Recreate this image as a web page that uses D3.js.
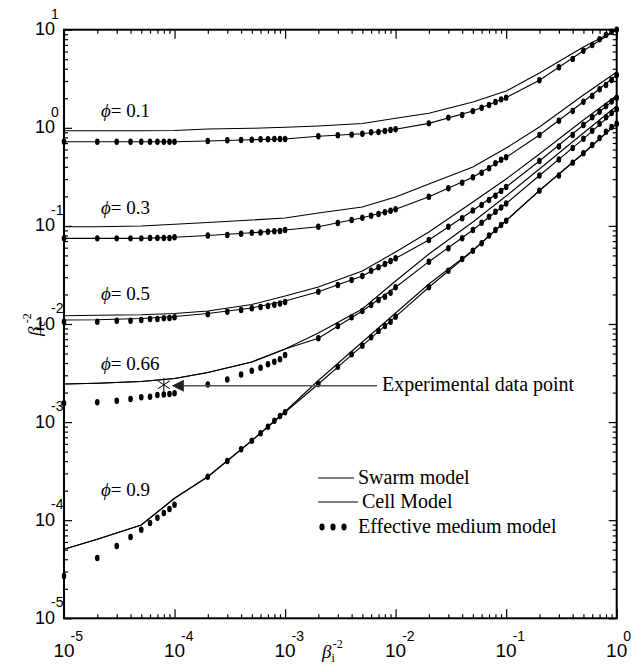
<!DOCTYPE html>
<html><head><meta charset="utf-8">
<script src="https://cdn.jsdelivr.net/npm/d3@7"></script>
<style>body{margin:0;background:#fff}</style>
</head><body>
<svg id="c" width="644" height="671"></svg>
<script>
// ---------- data ----------
const dotX = [1e-5,2e-5,3e-5,4e-5,5e-5,6e-5,7e-5,8e-5,9e-5,
  1e-4,2e-4,3e-4,4e-4,5e-4,6e-4,7e-4,8e-4,9e-4,
  1e-3,2e-3,3e-3,4e-3,5e-3,6e-3,7e-3,8e-3,9e-3,
  1e-2,2e-2,3e-2,4e-2,5e-2,6e-2,7e-2,8e-2,9e-2,
  1e-1,2e-1,3e-1,4e-1,5e-1,6e-1,7e-1,8e-1,9e-1,1];
const lineX = [1e-5,2e-5,5e-5,1e-4,2e-4,5e-4,1e-3,2e-3,5e-3,1e-2,2e-2,5e-2,1e-1,2e-1,5e-1,1];

const phiLabels = ["0.1","0.3","0.5","0.66","0.9"];
const phiLabelY = [1.29, 0.132, 0.0176, 0.0034, 1.77e-4]; // label baselines (data units)

const em01 = [0.722,0.722,0.722,0.722,0.722,0.722,0.722,0.722,0.722,0.722,
  0.734,0.746,0.751,0.756,0.764,0.764,0.769,0.769,0.769,
  0.819,0.839,0.851,0.871,0.900,0.906,0.928,0.950,0.965,
  1.11,1.27,1.35,1.48,1.60,1.71,1.83,1.95,2.03,
  3.05,4.14,5.03,6.11,6.98,7.98,8.83,9.54,10.0];
const em03 = [0.0747,0.0747,0.0747,0.0747,0.0747,0.0753,0.0753,0.0753,0.0753,0.0765,
  0.0798,0.0808,0.0833,0.0851,0.0857,0.0871,0.0881,0.0887,0.0908,
  0.0981,0.1070,0.1149,0.1212,0.1271,0.1322,0.1376,0.1429,0.1477,
  0.1985,0.2417,0.2757,0.3138,0.3486,0.3867,0.4347,0.4732,0.5004,
  0.845,1.181,1.484,1.845,2.110,2.470,2.731,3.072,3.453];
const em05 = [0.01056,0.01056,0.01081,0.01081,0.01099,0.01125,0.01125,0.01143,0.01151,0.01170,
  0.01259,0.01335,0.01389,0.01446,0.01491,0.01526,0.01573,0.01618,0.01676,
  0.02135,0.02497,0.02809,0.03086,0.03494,0.03785,0.04089,0.04388,0.04675,
  0.07185,0.0981,0.1195,0.1435,0.1633,0.1837,0.2032,0.2269,0.2492,
  0.4588,0.6449,0.845,1.068,1.280,1.460,1.669,1.854,2.027];
const em066 = [0.001555,0.001591,0.001653,0.001720,0.001790,0.001816,0.001889,0.001911,0.001934,0.001966,
  0.002417,0.002719,0.003057,0.003343,0.003585,0.003885,0.004127,0.004367,0.004831,
  0.007152,0.009544,0.01171,0.01357,0.01562,0.01757,0.01898,0.02085,0.02366,
  0.04317,0.05910,0.07474,0.09083,0.1078,0.1241,0.1396,0.1540,0.1692,
  0.3265,0.4753,0.6224,0.7724,0.934,1.101,1.280,1.416,1.544];
const em09 = [2.699e-5,4.117e-5,5.457e-5,6.743e-5,8.000e-5,9.365e-5,1.060e-4,1.184e-4,1.301e-4,1.439e-4,
  2.777e-4,4.013e-4,5.281e-4,6.462e-4,7.689e-4,8.980e-4,1.034e-3,1.154e-3,1.259e-3,
  2.446e-3,3.672e-3,4.912e-3,6.012e-3,7.321e-3,8.489e-3,9.546e-3,1.056e-2,1.188e-2,
  2.367e-2,3.496e-2,4.601e-2,5.590e-2,6.651e-2,7.989e-2,9.089e-2,0.1022,0.1130,
  0.2286,0.3266,0.4412,0.5500,0.6683,0.7878,0.9134,1.020,1.102];

const swarm01 = [0.934,0.934,0.934,0.938,0.972,0.988,1.012,1.043,1.106,1.250,1.406,1.832,2.372,3.62,6.66,10.0];
const cell01  = [0.722,0.722,0.722,0.722,0.734,0.756,0.769,0.819,0.871,0.965,1.11,1.48,2.03,3.05,6.11,10.0];
const swarm03 = [0.0981,0.0981,0.0998,0.1038,0.1083,0.1149,0.1204,0.1354,0.1559,0.1971,0.2675,0.3986,0.6224,1.019,2.160,3.706];
const cell03  = [0.0747,0.0747,0.0747,0.0765,0.0798,0.0851,0.0908,0.0981,0.1212,0.1477,0.1985,0.3138,0.5004,0.845,1.845,3.453];
const swarm05 = [0.01215,0.01227,0.01244,0.01279,0.01357,0.01580,0.01930,0.02383,0.03469,0.05420,0.0867,0.1753,0.3007,0.5408,1.200,2.135];
const cell05  = [0.01099,0.01104,0.01138,0.01193,0.01279,0.01456,0.01716,0.02135,0.03086,0.04675,0.07185,0.1435,0.2492,0.4588,1.068,2.027];
const swarm066 = [0.002446,0.002486,0.002594,0.002783,0.003203,0.004100,0.00556,0.008101,0.01423,0.02745,0.05171,0.1096,0.2017,0.3802,0.885,1.669];
const cell066  = [0.002446,0.002486,0.002594,0.002783,0.003203,0.004100,0.00556,0.007152,0.01357,0.02366,0.04317,0.09083,0.1692,0.3265,0.7724,1.544];
const swarm09 = [5.05e-5,6.39e-5,8.93e-5,1.672e-4,2.777e-4,6.462e-4,1.283e-3,2.656e-3,6.557e-3,1.295e-2,2.557e-2,5.616e-2,0.1135,0.2297,0.5500,1.102];
const cell09  = [5.05e-5,6.39e-5,8.93e-5,1.672e-4,2.777e-4,6.462e-4,1.259e-3,2.446e-3,6.012e-3,1.188e-2,2.367e-2,5.590e-2,0.1130,0.2286,0.5500,1.102];

const expPoint = {x: 8e-5, y: 0.0024};

const xMajor = [1e-5,1e-4,1e-3,1e-2,1e-1,1];
const xExp = ["-5","-4","-3","-2","-1","0"];
const yMajor = [1e-5,1e-4,1e-3,1e-2,1e-1,1,10];
const yExp = ["-5","-4","-3","-2","-1","0","1"];

// ---------- layout ----------
const L = 64, R = 616.7, T = 29.7, B = 618.3;
const svg = d3.select("#c");
const x = d3.scaleLog().domain([1e-5, 1]).range([L, R]);
const y = d3.scaleLog().domain([1e-5, 10]).range([B, T]);

const serif = "'Liberation Serif','Times New Roman',serif";
const sans = "'Liberation Sans',Arial,sans-serif";

// curves
const line = d3.line().x(d => x(d[0])).y(d => y(d[1]));
const swarms = [swarm01, swarm03, swarm05, swarm066, swarm09];
const cells = [cell01, cell03, cell05, cell066, cell09];
const ems = [em01, em03, em05, em066, em09];
const gc = svg.append("g");
swarms.concat(cells).forEach(s => {
  gc.append("path").attr("d", line(lineX.map((v, i) => [v, s[i]])))
    .attr("fill", "none").attr("stroke", "#000").attr("stroke-width", 1.1);
});
ems.forEach(s => {
  gc.selectAll(null).data(dotX.map((v, i) => [v, s[i]])).enter().append("ellipse")
    .attr("cx", d => x(d[0])).attr("cy", d => y(d[1])).attr("rx", 2.3).attr("ry", 3.2).attr("fill", "#000");
});

// phi labels
phiLabels.forEach((p, i) => {
  const t = svg.append("text").attr("x", 101).attr("y", y(phiLabelY[i]))
    .attr("font-family", serif).attr("font-size", 19).attr("fill", "#000");
  t.append("tspan").attr("font-style", "italic").text("ϕ");
  t.append("tspan").text("= " + p);
});

// experimental point
const ex = x(expPoint.x), ey = y(expPoint.y);
const ga = svg.append("g").attr("stroke", "#000").attr("stroke-width", 1);
ga.append("line").attr("x1", ex).attr("x2", ex).attr("y1", ey - 7).attr("y2", ey + 7);
ga.append("line").attr("x1", ex - 6).attr("x2", ex + 6).attr("y1", ey - 4).attr("y2", ey + 4);
ga.append("line").attr("x1", ex - 6).attr("x2", ex + 6).attr("y1", ey + 4).attr("y2", ey - 4);
svg.append("line").attr("x1", ex + 18).attr("x2", 377).attr("y1", ey + 1).attr("y2", ey + 1)
  .attr("stroke", "#555").attr("stroke-width", 1.6);
svg.append("path").attr("d", `M${ex + 8},${ey + 1} L${ex + 20},${ey - 5} L${ex + 20},${ey + 7} Z`).attr("fill", "#222");
svg.append("text").attr("x", 382).attr("y", ey + 6).attr("font-family", serif).attr("font-size", 20)
  .text("Experimental data point");

// legend
const lg = svg.append("g");
lg.append("line").attr("x1", 318).attr("x2", 354).attr("y1", 478).attr("y2", 478).attr("stroke", "#000");
lg.append("text").attr("x", 358).attr("y", 484).attr("font-family", serif).attr("font-size", 20).text("Swarm model");
lg.append("line").attr("x1", 318).attr("x2", 358).attr("y1", 502).attr("y2", 502).attr("stroke", "#000");
lg.append("text").attr("x", 362).attr("y", 508).attr("font-family", serif).attr("font-size", 20).text("Cell Model");
[322, 333, 344].forEach(cx => lg.append("ellipse").attr("cx", cx).attr("cy", 527).attr("rx", 2.6).attr("ry", 3.4));
lg.append("text").attr("x", 358).attr("y", 533).attr("font-family", serif).attr("font-size", 20).text("Effective medium model");

// axes (inward ticks)
const minorX = x.ticks().filter(v => !xMajor.includes(v));
const minorY = y.ticks().filter(v => !yMajor.some(m => Math.abs(m - v) / v < 1e-6));
function ax(gen, scale, vals, size, tr) {
  const g = svg.append("g").attr("transform", tr)
    .call(gen(scale).tickValues(vals).tickSize(size).tickFormat(""));
  g.select(".domain").remove();
  g.selectAll(".tick line").attr("stroke", "#000").attr("stroke-width", 1.2);
}
ax(d3.axisBottom, x, minorX, -4, `translate(0,${B})`);
ax(d3.axisBottom, x, xMajor, -9, `translate(0,${B})`);
ax(d3.axisTop, x, minorX, -4, `translate(0,${T})`);
ax(d3.axisTop, x, xMajor, -9, `translate(0,${T})`);
ax(d3.axisLeft, y, minorY, -4, `translate(${L},0)`);
ax(d3.axisLeft, y, yMajor, -8, `translate(${L},0)`);
ax(d3.axisRight, y, minorY, -4, `translate(${R},0)`);
ax(d3.axisRight, y, yMajor, -8, `translate(${R},0)`);
svg.append("rect").attr("x", L).attr("y", T).attr("width", R - L).attr("height", B - T)
  .attr("fill", "none").attr("stroke", "#000").attr("stroke-width", 2);

// tick labels: "10" with raised exponent, one text element each
xMajor.forEach((v, i) => {
  const t = svg.append("text").attr("x", x(v) - 10.6).attr("y", 657)
    .attr("font-family", sans).attr("font-size", 19);
  t.append("tspan").text("10");
  t.append("tspan").attr("font-size", 14).attr("dx", -4).attr("dy", -16.5).text(xExp[i]);
});
yMajor.forEach((v, i) => {
  const t = svg.append("text").attr("x", 35).attr("y", y(v) + 5.5)
    .attr("font-family", sans).attr("font-size", 18);
  t.append("tspan").text("10");
  t.append("tspan").attr("font-size", 14).attr("dx", -4).attr("dy", -16.5).text(yExp[i]);
});

// axis titles
const xt = svg.append("text").attr("x", 322).attr("y", 658).attr("font-family", serif).attr("font-size", 19);
xt.append("tspan").attr("font-style", "italic").text("β");
xt.append("tspan").attr("font-size", 12).attr("dy", 4).text("i");
xt.append("tspan").attr("font-size", 12).attr("dx", -2).attr("dy", -14).text("-2");
const yt = svg.append("text").attr("transform", "translate(41,336) rotate(-90)").attr("font-family", serif).attr("font-size", 19);
yt.append("tspan").attr("font-style", "italic").text("β");
yt.append("tspan").attr("font-size", 12).attr("dy", 4).text("e");
yt.append("tspan").attr("font-size", 12).attr("dx", -2).attr("dy", -14).text("-2");
</script>
</body></html>
